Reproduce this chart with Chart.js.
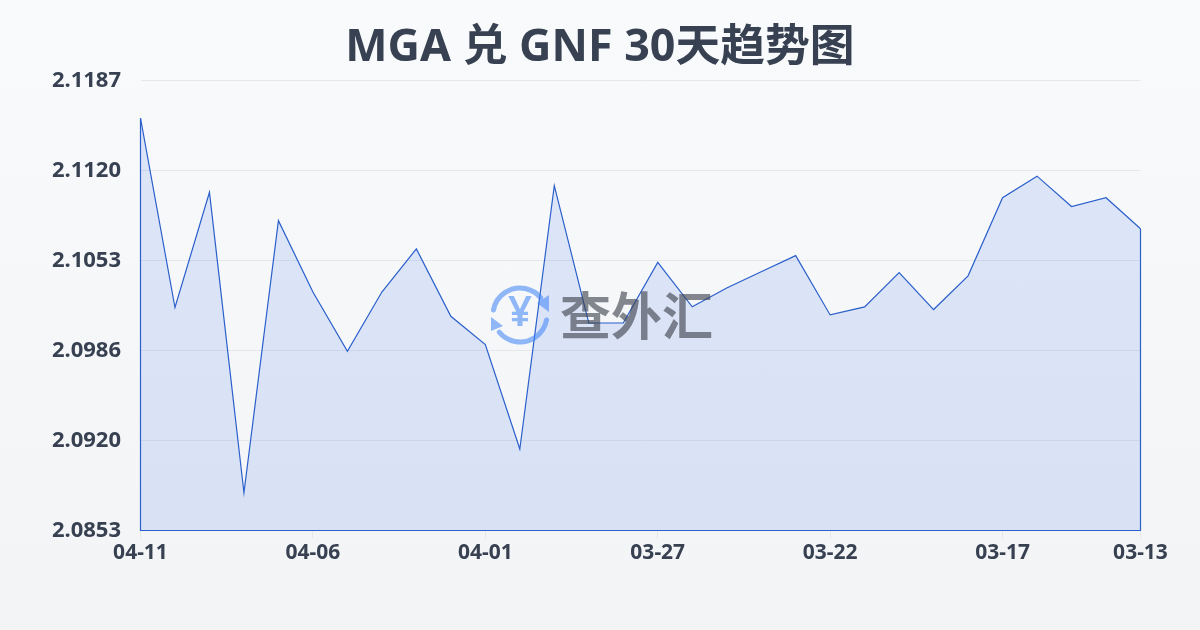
<!DOCTYPE html>
<html>
<head>
<meta charset="utf-8">
<title>MGA 兑 GNF 30天趋势图</title>
<script src="https://cdn.jsdelivr.net/npm/chart.js@4/dist/chart.umd.min.js"></script>
<style>
  html, body { margin: 0; padding: 0; }
  body { width: 1200px; height: 630px; overflow: hidden; background: linear-gradient(180deg, #f8fafc 0%, #f3f4f6 100%); }
  canvas { display: block; }
</style>
</head>
<body>
<canvas id="grafica" width="1200" height="630"></canvas>
<script>
const titulo = "MGA 兑 GNF 30天趋势图";
const marcaAgua = "查外汇";

const fechas = ["04-11", "04-10", "04-09", "04-08", "04-07", "04-06", "04-05", "04-04", "04-03", "04-02",
  "04-01", "03-31", "03-30", "03-29", "03-28", "03-27", "03-26", "03-25", "03-24", "03-23",
  "03-22", "03-21", "03-20", "03-19", "03-18", "03-17", "03-16", "03-15", "03-14", "03-13"];
const valores = [2.1159, 2.10185, 2.1104, 2.0881, 2.1083, 2.1030, 2.0986, 2.1030, 2.1062, 2.1012,
  2.0991, 2.09135, 2.1109, 2.1007, 2.1007, 2.1052, 2.1019, 2.1033, 2.1045, 2.1057,
  2.1013, 2.1019, 2.10445, 2.1017, 2.1042, 2.1100, 2.1116, 2.10935, 2.1100, 2.1077];

const etiquetasX = ["04-11", "04-06", "04-01", "03-27", "03-22", "03-17", "03-13"];
const etiquetasY = ["2.0853", "2.0920", "2.0986", "2.1053", "2.1120", "2.1187"];
const posicionesY = [2.0853, 2.09198, 2.09866, 2.10534, 2.11202, 2.1187];

const fuente = '"Noto Sans", "Noto Sans CJK SC", sans-serif';
const colorTexto = "#374151";
const colorLinea = "#2b5fcb";

// contorno del area y marca de agua semitransparente encima
const pluginContorno = {
  id: "contorno",
  afterDatasetsDraw(chart) {
    const puntos = chart.getDatasetMeta(0).data;
    const base = chart.scales.y.bottom;
    const primero = puntos[0];
    const ultimo = puntos[puntos.length - 1];
    const ctx = chart.ctx;
    ctx.save();
    ctx.strokeStyle = colorLinea;
    ctx.lineWidth = 1.2;
    ctx.beginPath();
    ctx.moveTo(primero.x, primero.y);
    ctx.lineTo(primero.x, base);
    ctx.lineTo(ultimo.x, base);
    ctx.lineTo(ultimo.x, ultimo.y);
    ctx.stroke();

    const azul = "rgba(59, 130, 246, 0.55)";
    ctx.strokeStyle = azul;
    ctx.fillStyle = azul;
    ctx.lineWidth = 5;
    ctx.lineCap = "round";
    ctx.beginPath();
    ctx.arc(520, 315, 27, Math.PI * 1.06, Math.PI * 1.78);
    ctx.stroke();
    ctx.beginPath();
    ctx.arc(520, 315, 27, Math.PI * 0.06, Math.PI * 0.78);
    ctx.stroke();
    ctx.beginPath();
    ctx.moveTo(549, 295); ctx.lineTo(549, 312); ctx.lineTo(537, 303);
    ctx.closePath();
    ctx.fill();
    ctx.beginPath();
    ctx.moveTo(491, 331); ctx.lineTo(491, 317); ctx.lineTo(503, 326);
    ctx.closePath();
    ctx.fill();
    ctx.font = '600 42px ' + fuente;
    ctx.textAlign = "center";
    ctx.textBaseline = "middle";
    ctx.fillText("¥", 520, 314);
    ctx.fillStyle = "rgba(60, 64, 75, 0.62)";
    ctx.font = 'bold 51px "Noto Sans CJK SC", sans-serif';
    ctx.textAlign = "left";
    ctx.fillText(marcaAgua, 560, 316);
    ctx.restore();
  }
};

new Chart(document.getElementById("grafica").getContext("2d"), {
  type: "line",
  plugins: [pluginContorno],
  data: {
    labels: fechas,
    datasets: [{
      data: valores,
      borderColor: colorLinea,
      borderWidth: 1.2,
      backgroundColor: "rgba(37, 99, 235, 0.13)",
      fill: "start",
      tension: 0,
      pointRadius: 0
    }]
  },
  options: {
    responsive: false,
    animation: false,
    plugins: {
      legend: { display: false },
      tooltip: { enabled: false },
      title: {
        display: true,
        text: titulo,
        color: colorTexto,
        font: { family: fuente, size: 44.8, weight: "bold", lineHeight: 1.2 },
        padding: { top: 21, bottom: 5.74 }
      }
    },
    scales: {
      x: {
        grid: { drawOnChartArea: false, color: "#e5e7eb", tickLength: 8 },
        border: { display: false },
        afterFit(escala) { escala.height = 99.5; },
        ticks: {
          autoSkip: false,
          maxRotation: 0,
          padding: 2,
          color: colorTexto,
          font: { family: fuente, size: 21, weight: "bold" },
          callback(valor, i) {
            const f = fechas[i];
            return etiquetasX.includes(f) ? f : null;
          }
        }
      },
      y: {
        min: posicionesY[0],
        max: posicionesY[posicionesY.length - 1],
        afterBuildTicks(escala) { escala.ticks = posicionesY.map(v => ({ value: v })); },
        afterFit(escala) { escala.width = 140.5; },
        grid: { color: "#e5e7eb", drawTicks: false },
        border: { display: false },
        ticks: {
          padding: 19.5,
          color: colorTexto,
          font: { family: fuente, size: 22, weight: "bold" },
          callback(valor, i) { return etiquetasY[i]; }
        }
      },
      // eje vacio a la derecha para dejar el margen y que el titulo quede centrado
      margenDerecho: {
        position: "right",
        grid: { display: false },
        border: { display: false },
        ticks: { display: false },
        afterFit(escala) { escala.width = 59.5; }
      }
    }
  }
});
</script>
</body>
</html>
